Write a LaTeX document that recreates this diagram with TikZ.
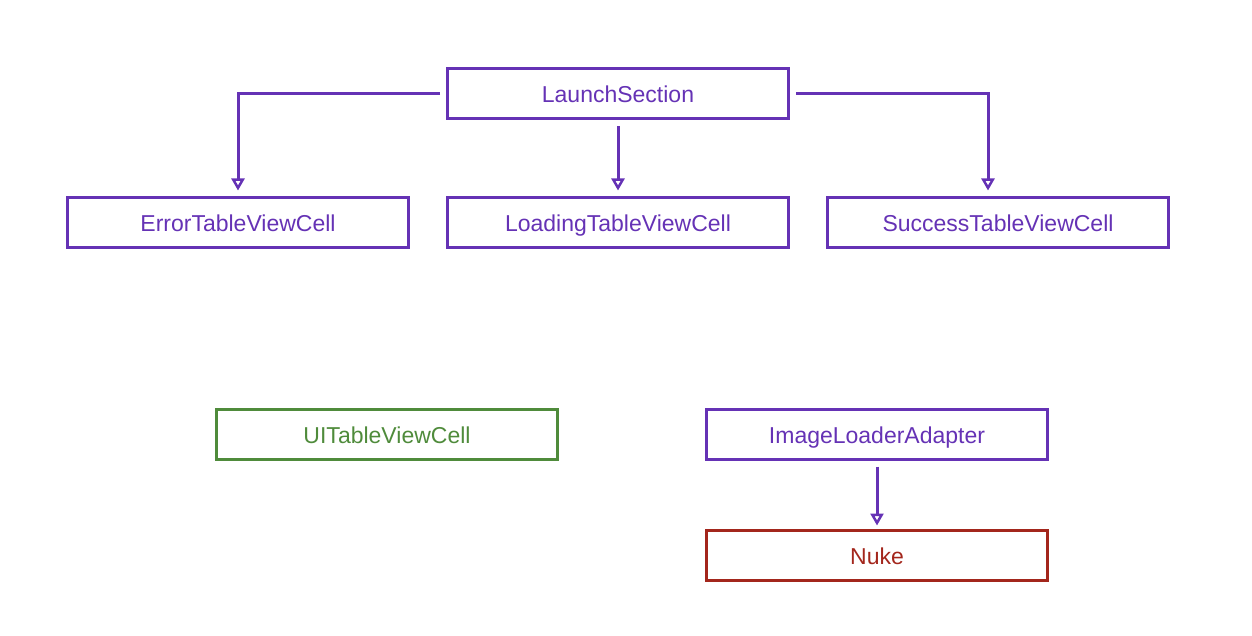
\documentclass[tikz,border=0pt]{standalone}
\usepackage{fontspec}
\setmainfont{Liberation Sans}
\usetikzlibrary{arrows.meta}
\definecolor{pur}{HTML}{6532B5}
\definecolor{grn}{HTML}{4F8B3B}
\definecolor{rd}{HTML}{A3261C}
\tikzset{
  box/.style={draw=#1, line width=3pt, minimum width=341pt, minimum height=50pt, inner sep=0pt, text=#1, font=\fontsize{23}{26}\selectfont, text height=18pt, text depth=0pt, anchor=center},
  conn/.style={draw=pur, line width=3pt, -{Triangle[open, length=12pt, width=13pt, line width=2.5pt]}}
}
\begin{document}
\begin{tikzpicture}[x=1pt,y=-1pt]
\useasboundingbox (0,0) rectangle (1252,636);
\node[box=pur] (launch) at (618,94) {LaunchSection};
\node[box=pur] (error) at (238,223) {ErrorTableViewCell};
\node[box=pur] (loading) at (618,223) {LoadingTableViewCell};
\node[box=pur] (success) at (998,223) {SuccessTableViewCell};
\node[box=grn] (uitable) at (387,434) {UITableViewCell};
\node[box=pur] (adapter) at (877,434) {ImageLoaderAdapter};
\node[box=rd] (nuke) at (877,555) {Nuke};
\coordinate (lA) at ([xshift=-6pt]launch.west);
\coordinate (rA) at ([xshift=6pt]launch.east);
\draw[conn] (lA) -| ([yshift=6pt]error.north -| 238,0);
\draw[conn] ([yshift=-6pt]launch.south) -- ([yshift=6pt]loading.north);
\draw[conn] (rA) -| ([yshift=6pt]success.north -| 988,0);
\draw[conn] ([yshift=-6pt]adapter.south) -- ([yshift=3pt]nuke.north);
\end{tikzpicture}
\end{document}
